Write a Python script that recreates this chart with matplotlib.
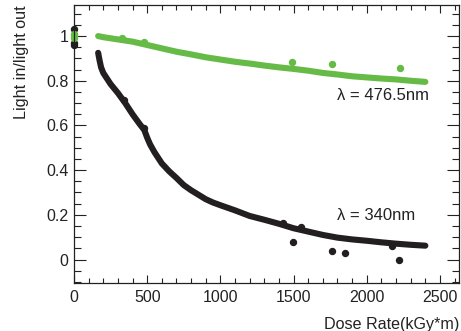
import matplotlib
matplotlib.use('Agg')
import matplotlib.pyplot as plt
from matplotlib.ticker import MultipleLocator

plt.rcParams['font.family'] = ['Liberation Sans', 'DejaVu Sans']

# 340nm curve
x_340 = [165, 175, 185, 200, 250, 300, 350, 400, 450, 480, 500, 520, 550, 600, 650, 700,
         750, 800, 850, 900, 950, 1000, 1100, 1200, 1300, 1400, 1500, 1600, 1700, 1800,
         1900, 2000, 2100, 2200, 2300, 2400]
y_340 = [0.925, 0.89, 0.86, 0.835, 0.785, 0.745, 0.70, 0.65, 0.605, 0.58, 0.545, 0.515,
         0.48, 0.43, 0.395, 0.365, 0.333, 0.31, 0.29, 0.27, 0.255, 0.243, 0.22, 0.195,
         0.178, 0.16, 0.14, 0.125, 0.11, 0.098, 0.09, 0.084, 0.077, 0.071, 0.066, 0.062]
x_340_pts = [0, 0, 0, 1493, 1760, 1850, 2220, 2170, 1430, 1550, 340, 480]
y_340_pts = [1.03, 0.97, 0.96, 0.08, 0.04, 0.031, 0.0, 0.06, 0.165, 0.145, 0.715, 0.59]

# 476.5nm curve
x_476 = [165, 200, 300, 400, 500, 600, 700, 800, 900, 1000, 1100, 1200, 1300,
         1400, 1500, 1600, 1700, 1800, 1900, 2000, 2100, 2200, 2300, 2400]
y_476 = [1.0, 0.995, 0.985, 0.975, 0.96, 0.945, 0.93, 0.918, 0.905, 0.895,
         0.885, 0.877, 0.868, 0.86, 0.853, 0.845, 0.835, 0.828, 0.82, 0.815, 0.81, 0.806,
         0.80, 0.795]
x_476_pts = [0, 0, 0, 1490, 1760, 2225, 330, 480]
y_476_pts = [1.0, 0.99, 1.01, 0.885, 0.875, 0.855, 0.992, 0.975]

black = '#231f20'
green = '#66bb46'

fig = plt.figure(figsize=(4.61, 3.31), dpi=100)
ax = fig.add_axes([74 / 461, 1 - 283 / 331, 385 / 461, 278 / 331])

ax.plot(x_340, y_340, '-', color=black, lw=4.4, solid_capstyle='round')
ax.plot(x_340_pts, y_340_pts, 'o', color=black, ms=4.3, clip_on=False)
ax.plot(x_476, y_476, '-', color=green, lw=4.4, solid_capstyle='round')
ax.plot(x_476_pts, y_476_pts, 'o', color=green, ms=4.3, clip_on=False)

ax.text(1796, 0.736, '\u03bb = 476.5nm', fontsize=12, va='center', ha='left', color='#222222')
ax.text(1796, 0.199, '\u03bb = 340nm', fontsize=12, va='center', ha='left', color='#222222')

ax.set_xlim(0, 2630)
ax.set_ylim(-0.105, 1.139)
ax.xaxis.set_major_locator(MultipleLocator(500))
ax.xaxis.set_minor_locator(MultipleLocator(100))
ax.yaxis.set_major_locator(MultipleLocator(0.2))
ax.yaxis.set_minor_locator(MultipleLocator(0.05))
ax.yaxis.set_major_formatter(plt.FuncFormatter(lambda v, p: '0' if abs(v) < 1e-9 else ('%g' % v)))

ax.tick_params(axis='both', which='both', direction='in', top=True, right=True,
               labelsize=11.5, colors='#222222', width=0.8)
ax.tick_params(axis='y', which='major', length=8.6, pad=4)
ax.tick_params(axis='y', which='minor', length=5)
ax.tick_params(axis='x', which='major', length=6, pad=5)
ax.tick_params(axis='x', which='minor', length=3.4)
for s in ax.spines.values():
    s.set_linewidth(0.9)
    s.set_color('#222222')

ax.set_xlabel('Dose Rate(kGy*m)', loc='right', fontsize=11.6, labelpad=9, color='#222222')
ax.set_ylabel('Light in/light out', loc='top', fontsize=11.6, labelpad=12, color='#222222')

fig.savefig('out.png', dpi=100)
